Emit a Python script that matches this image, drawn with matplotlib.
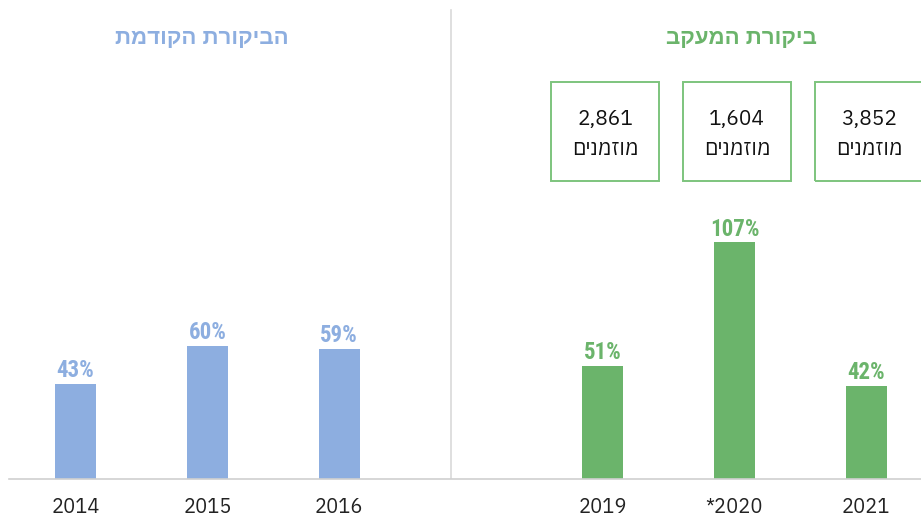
import matplotlib
matplotlib.use('Agg')
from matplotlib import pyplot as plt
from matplotlib.patches import Rectangle
import matplotlib.transforms as mtransforms

years = ['2014', '2015', '2016', '', '2019', '*2020', '2021']
values = [43, 60, 59, None, 51, 107, 42]
colors = ['#8daee0', '#8daee0', '#8daee0', None, '#6bb46b', '#6bb46b', '#6bb46b']
invited = {4: '2,861', 5: '1,604', 6: '3,852'}
invited_word = 'מוזמנים'
title_prev = 'הביקורת הקודמת'
title_follow = 'ביקורת המעקב'

def rtl(s):
    # matplotlib has no bidi support, flip hebrew for display
    return s[::-1]

blue = '#8daee0'
green = '#6bb46b'
heb = ['IBM Plex Sans Hebrew', 'DejaVu Sans']
heb_bold = ['Liberation Sans', 'DejaVu Sans']
cond = ['Roboto Condensed', 'DejaVu Sans']

fig = plt.figure(figsize=(9.21, 5.2), dpi=100)
ax = fig.add_axes([9/921, 41/520, 912/921, 479/520])

xs = [i for i, v in enumerate(values) if v is not None]
hs = [values[i] for i in xs]
cs = [colors[i] for i in xs]
ax.bar(xs, hs, width=0.31, color=cs)

for x, h, c in zip(xs, hs, cs):
    ax.annotate('%d%%' % h, (x, h), xytext=(0, 5), textcoords='offset points',
                ha='center', va='baseline', color=c, fontsize=16.5,
                fontweight='bold', family=cond)

ax.set_xlim(-0.505, 6.415)
ax.set_ylim(0, 216.7)
ax.set_xticks(range(len(years)))
ax.set_xticklabels(years, fontsize=14.5, family=heb, color='#222222')
ax.tick_params(axis='x', length=0, pad=14)
ax.set_yticks([])
for s in ['top', 'right', 'left']:
    ax.spines[s].set_visible(False)
ax.spines['bottom'].set_color('#d0d0d0')
ax.spines['bottom'].set_linewidth(1.2)

# divider between the two audits
ax.axvline(2.85, ymin=0, ymax=(479-10)/479, color='#d9d9d9', lw=1.2)

# boxes with number of invited
trans = mtransforms.blended_transform_factory(ax.transData, ax.transAxes)
for i, n in invited.items():
    ax.add_patch(Rectangle((i + 0.02 - 0.41, 0.622), 0.82, 0.207, transform=trans,
                           fill=False, edgecolor='#7dc47d', lw=1.4, clip_on=False))
    ax.text(i + 0.02, 0.75, n, transform=trans, ha='center', va='center',
            fontsize=15, family=heb, color='#111111')
    ax.text(i + 0.02, 0.688, rtl(invited_word), transform=trans, ha='center',
            va='center', fontsize=15, family=heb, color='#111111')

fig.text(202/921, 1 - 38/520, rtl(title_prev), ha='center', va='center',
         fontsize=16, fontweight='bold', color=blue, family=heb_bold)
fig.text(741/921, 1 - 38/520, rtl(title_follow), ha='center', va='center',
         fontsize=16, fontweight='bold', color=green, family=heb_bold)

fig.savefig('out.png', dpi=100)
